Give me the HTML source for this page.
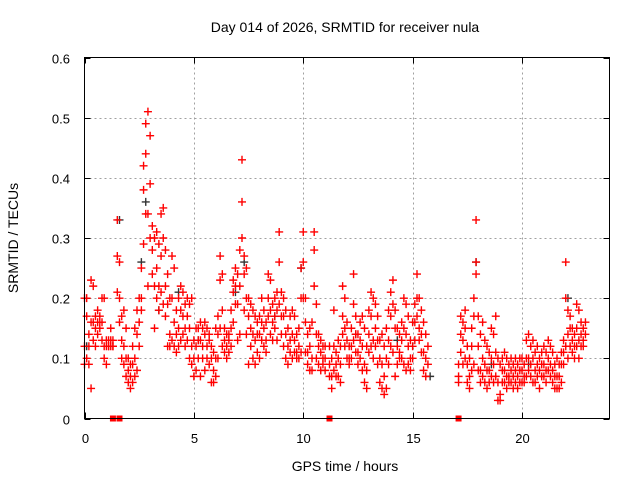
<!DOCTYPE html>
<html><head><meta charset="utf-8"><style>
html,body{margin:0;padding:0;background:#fff;}
svg{display:block;font-family:"Liberation Sans",sans-serif;}
</style></head><body>
<svg id="chart" width="640" height="480">
<text x="345" y="32" font-size="14" text-anchor="middle">Day 014 of 2026, SRMTID for receiver nula</text>
<text x="345" y="471" font-size="14" text-anchor="middle">GPS time / hours</text>
<text transform="translate(18,238) rotate(-90)" font-size="14" text-anchor="middle">SRMTID / TECUs</text>
<g id="grid"></g><g id="ticks"></g><g id="marks"></g>
<rect x="84.5" y="57.5" width="525" height="361" fill="none" stroke="#000" stroke-width="1"/>
</svg>
<script>
const xTicks=[0,5,10,15,20];
const yTicks=[0,0.1,0.2,0.3,0.4,0.5,0.6];
const yTickLabels=["0","0.1","0.2","0.3","0.4","0.5","0.6"];
const hours=[
0.0,0.1,0.2,0.3,0.4,0.5,0.6,0.7,0.8,0.9,
1.0,1.1,1.2,1.3,1.4,1.5,1.6,1.7,1.8,1.9,
2.0,2.1,2.2,2.3,2.4,2.5,2.6,2.7,2.8,2.9,
3.0,3.1,3.2,3.3,3.4,3.5,3.6,3.7,3.8,3.9,
4.0,4.1,4.2,4.3,4.4,4.5,4.6,4.7,4.8,4.9,
5.0,5.1,5.2,5.3,5.4,5.5,5.6,5.7,5.8,5.9,
6.0,6.1,6.2,6.3,6.4,6.5,6.6,6.7,6.8,6.9,
7.0,7.1,7.2,7.3,7.4,7.5,7.6,7.7,7.8,7.9,
8.0,8.1,8.2,8.3,8.4,8.5,8.6,8.7,8.8,8.9,
9.0,9.1,9.2,9.3,9.4,9.5,9.6,9.7,9.8,9.9,
10.0,10.1,10.2,10.3,10.4,10.5,10.6,10.7,10.8,10.9,
11.0,11.1,11.2,11.3,11.4,11.5,11.6,11.7,11.8,11.9,
12.0,12.1,12.2,12.3,12.4,12.5,12.6,12.7,12.8,12.9,
13.0,13.1,13.2,13.3,13.4,13.5,13.6,13.7,13.8,13.9,
14.0,14.1,14.2,14.3,14.4,14.5,14.6,14.7,14.8,14.9,
15.0,15.1,15.2,15.3,15.4,15.5,15.6,15.7,17.1,17.2,
17.3,17.4,17.5,17.6,17.7,17.8,17.9,18.0,18.1,18.2,
18.3,18.4,18.5,18.6,18.7,18.8,18.9,19.0,19.1,19.2,
19.3,19.4,19.5,19.6,19.7,19.8,19.9,20.0,20.1,20.2,
20.3,20.4,20.5,20.6,20.7,20.8,20.9,21.0,21.1,21.2,
21.3,21.4,21.5,21.6,21.7,21.8,21.9,22.0,22.1,22.2,
22.3,22.4,22.5,22.6,22.7,22.8,22.9];
const tecHigh=[
.09,.10,.12,.23,.16,.15,.16,.17,.20,.10,
.09,.12,.13,.12,null,.33,.26,.17,.12,.10,
.08,.07,.09,.10,.14,.16,.25,.42,.49,.51,
.47,.32,.30,.31,.29,.34,.35,.28,.24,.20,
.27,.25,.18,.20,.22,.21,.19,.20,.19,.20,
.13,.12,.15,.16,.15,.16,.15,.14,.12,.11,
.10,.17,.27,.24,.15,.14,.13,.18,.23,.25,
.24,.28,.43,.27,.25,.20,.19,.18,.17,.16,
.17,.20,.18,.16,.24,.23,.19,.20,.21,.31,
.21,.20,.18,.15,.17,.18,.17,.14,.15,.25,
.31,.20,.14,.15,.16,.31,.19,.14,.13,.12,
.12,null,.12,.10,.18,.11,.13,.12,.22,.20,
.16,.12,.15,.24,.17,.14,.16,.17,.15,.12,
.18,.21,.20,.19,.17,.13,.14,.12,.15,.18,
.21,.23,.18,.15,.14,.16,.20,.19,.17,.13,
.16,.19,.24,.20,.18,.16,.14,.12,.09,.17,
.16,.18,.12,.10,.15,.20,.33,.17,.14,.16,
.13,.12,.11,.15,.14,.17,.10,.09,.10,.11,
.10,.09,.10,.09,.10,.09,.10,.10,.09,.13,
.14,.12,.13,.11,.12,.10,.11,.12,.11,.13,
.12,.11,.09,.10,.09,.11,.13,.26,.18,.17,
.15,.14,.19,.18,.16,.15,.16];
const tecMid=[
.20,.17,.14,.05,.13,.12,.18,.15,.13,.20,
.12,.13,.15,.13,null,.27,.20,.13,.09,.07,
.06,.05,.06,.07,.08,.12,.18,.38,.44,.34,
.39,.28,.22,.25,.22,.27,.30,.22,.19,.14,
.20,.16,.14,.15,.18,.17,.15,.17,.15,.12,
.10,.08,.10,.13,.12,.14,.10,.09,.10,.08,
.15,.14,.23,.18,.13,.12,.11,.15,.21,.22,
.19,.22,.36,.24,.20,.17,.15,.14,.13,.14,
.14,.16,.15,.13,.20,.18,.16,.17,.18,.26,
.17,.17,.14,.12,.13,.14,.13,.11,.12,.20,
.26,.16,.11,.12,.10,.28,.14,.12,.11,.10,
.10,null,.09,.07,.12,.09,.10,.09,.17,.15,
.13,.10,.12,.19,.14,.11,.13,.12,.09,.08,
.14,.17,.13,.15,.13,.10,.09,.07,.10,.13,
.17,.19,.15,.12,.11,.13,.15,.14,.12,.10,
.12,.16,.20,.15,.14,.11,.10,.09,.06,.14,
.13,.15,.09,.07,.12,.17,.26,.12,.08,.10,
.09,.08,.08,.10,.09,.11,.06,.04,.08,.08,
.07,.07,.08,.07,.08,.07,.08,.08,.07,.10,
.10,.09,.10,.08,.09,.08,.09,.09,.08,.10,
.09,.08,.07,.07,.07,.09,.11,.20,.14,.15,
.13,.12,.15,.13,.14,.13,.14];
const tecLow=[
.12,.20,.09,.16,.22,.17,.14,.16,.16,.12,
.13,.12,.12,.12,null,.21,.16,.10,.18,.15,
.10,.09,.12,.15,.18,.20,.20,.29,.34,.22,
.30,.24,.15,.20,.18,.21,.19,.17,.12,.12,
.13,.12,.11,.12,.13,.14,.12,.13,.10,.09,
.07,.15,.13,.07,.10,.08,.12,.13,.06,.06,
.07,.10,.15,.12,.11,.10,.14,.12,.16,.19,
.13,.14,.30,.18,.14,.09,.12,.10,.09,.11,
.10,.13,.12,.11,.17,.14,.13,.15,.13,.19,
.14,.12,.10,.09,.11,.10,.11,.10,.10,.11,
.20,.11,.09,.08,.08,.22,.10,.09,.08,.09,
.08,null,.07,.05,.08,.07,.07,.06,.14,.12,
.10,.09,.10,.13,.11,.09,.10,.08,.06,.05,
.11,.12,.10,.12,.09,.06,.05,.04,.05,.09,
.12,.11,.07,.09,.10,.10,.09,.08,.09,.08,
.10,.13,.17,.13,.11,.08,.07,null,.07,.11,
.09,.10,.06,.05,.08,.09,.24,.08,.06,.07,
.06,.05,.06,.07,.06,.07,.03,.03,.06,.06,
.05,.06,.06,.05,.06,.05,.06,.06,.06,.07,
.08,.07,.06,.06,.07,.05,.07,.07,.06,.08,
.07,.06,.05,.05,.05,.06,.09,.12,.10,.12,
.11,.10,.12,.10,.12,.12,null];
const darkHours=[0.1,1.6,2.6,2.8,3.4,4.3,5.2,6.9,7.3,8.7,9.9,12.4,14.3,15.8,17.9,18.6,20.3,22.1];
const darkTec=[0.12,0.33,0.26,0.36,0.18,0.21,0.13,0.21,0.26,0.17,0.25,0.14,0.13,0.07,0.26,0.09,0.09,0.20];
const zeroHours=[1.3,1.6,11.2,17.1];

const X0=84.5,X1=609.5,Y0=418.5,Y1=57.5,XMAX=24,YMAX=0.6;
const xs=h=>X0+(h/XMAX)*(X1-X0);
const ys=v=>Y0-(v/YMAX)*(Y0-Y1);
const NS="http://www.w3.org/2000/svg";
const grid=document.getElementById('grid'),ticks=document.getElementById('ticks'),marks=document.getElementById('marks');
function mk(tag,attrs,parent){const e=document.createElementNS(NS,tag);for(const k in attrs)e.setAttribute(k,attrs[k]);parent.appendChild(e);return e;}
xTicks.forEach(t=>{
  const x=Math.round(xs(t))+0.5;
  if(t>0){const g=mk('line',{x1:x,x2:x,y1:Y1,y2:Y0,stroke:'#a0a0a0','stroke-dasharray':'2,3'},grid);
  
  }
  mk('line',{x1:x,x2:x,y1:Y0,y2:Y0-6,stroke:'#000'},ticks);
  mk('line',{x1:x,x2:x,y1:Y1,y2:Y1+6,stroke:'#000'},ticks);
  const l=mk('text',{x:x,y:443,'font-size':13,'text-anchor':'middle'},ticks);
  l.textContent=String(t);
  
  
});
yTicks.forEach((t,i)=>{
  const y=Math.round(ys(t))+0.5;
  if(t>0&&t<YMAX){const g=mk('line',{x1:X0,x2:X1,y1:y,y2:y,stroke:'#a0a0a0','stroke-dasharray':'2,3'},grid);
  
  }
  mk('line',{x1:X0,x2:X0+6,y1:y,y2:y,stroke:'#000'},ticks);
  mk('line',{x1:X1,x2:X1-6,y1:y,y2:y,stroke:'#000'},ticks);
  const l=mk('text',{x:70,y:y+5,'font-size':13,'text-anchor':'end'},ticks);
  l.textContent=yTickLabels[i];
  
  
});
function plus(h,v,color,name){
  const x=xs(h),y=ys(v);
  const p=mk('path',{d:`M${x-4} ${y}H${x+4}M${x} ${y-4}V${y+4}`,stroke:color,'stroke-width':1.4,fill:'none'},marks);
  
  
}
darkHours.forEach((h,i)=>plus(h,darkTec[i],'#333','dark-point'));
[tecHigh,tecMid,tecLow].forEach(arr=>{
  hours.forEach((h,i)=>{if(arr[i]!=null)plus(h,arr[i],'#f00','srmtid-point');});
});
zeroHours.forEach(h=>{
  const r=mk('rect',{x:xs(h)-3,y:Y0-3,width:6,height:6,fill:'#f00'},marks);
  
  
});
</script>
</body></html>
